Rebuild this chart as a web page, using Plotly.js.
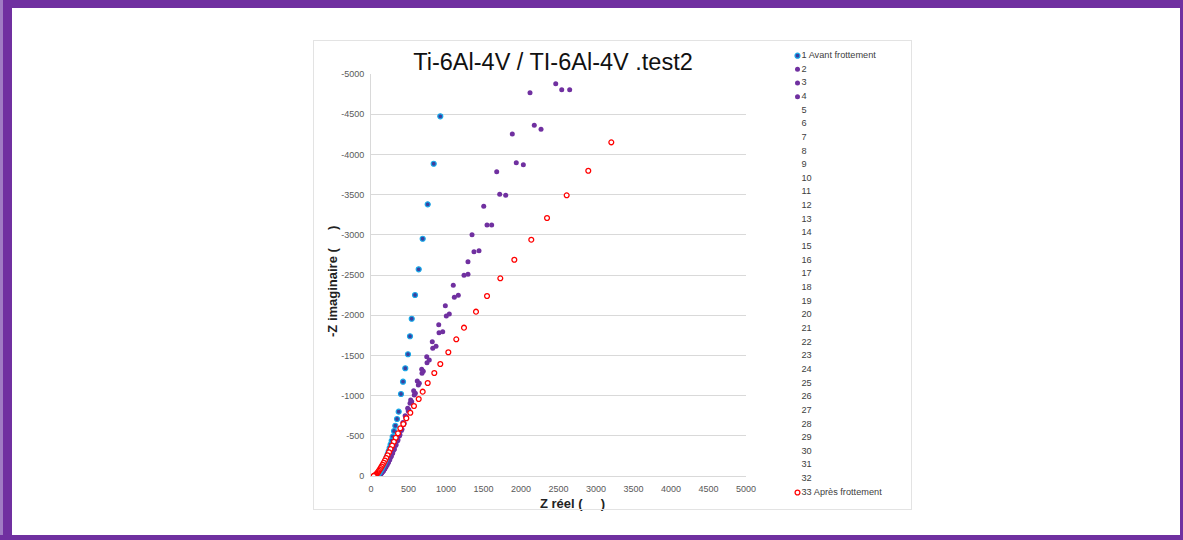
<!DOCTYPE html>
<html>
<head>
<meta charset="utf-8">
<script src="https://cdn.plot.ly/plotly-3.0.1.min.js"></script>
<style>
  html, body { margin: 0; padding: 0; background: #ffffff; }
  #wrap { position: relative; width: 1183px; height: 540px; overflow: hidden; }
  #chart { position: absolute; left: 0; top: 0; width: 1183px; height: 540px; }
  .fr { position: absolute; pointer-events: none; }
</style>
</head>
<body>
<div id="wrap">
  <div id="chart"></div>
  <div class="fr" style="left:313px;top:40px;width:599px;height:470px;border:1px solid #e3e3e3;box-sizing:border-box;"></div>
  <div class="fr" style="left:0;top:0;width:1183px;height:8px;background:#7030a0;"></div>
  <div class="fr" style="left:0;top:0;width:3px;height:540px;background:#a07cc4;"></div>
  <div class="fr" style="left:3px;top:0;width:9px;height:540px;background:#7030a0;"></div>
  <div class="fr" style="left:1180px;top:0;width:3px;height:540px;background:#7030a0;"></div>
  <div class="fr" style="left:0;top:535px;width:1183px;height:5px;background:#7030a0;"></div>
</div>
<script>
// ---- data ----
var s1x = [924, 836, 756, 689, 636, 587, 543, 520, 493, 457, 427, 400, 369, 347, 324, 307, 289, 276, 262, 249, 236, 224, 212, 200, 188, 176, 164, 152, 141, 130, 119, 109, 99, 90, 82, 75, 69, 64];
var s1y = [-4474, -3884, -3379, -2951, -2571, -2251, -1956, -1738, -1514, -1340, -1173, -1020, -800, -709, -625, -560, -489, -439, -392, -350, -310, -273, -240, -208, -180, -154, -130, -108, -88, -70, -54, -40, -28, -18, -11, -6, -2, -1];

var s2x = [2463, 2120, 1884, 1676, 1503, 1347, 1293, 1097, 991, 903, 817, 743, 676, 617, 569, 529, 489, 455, 425, 398, 372, 348, 325, 303, 282, 262, 243, 225, 208, 192, 176, 162, 148, 135, 123, 112, 102, 94, 88];
var s2y = [-4879, -4767, -4254, -3785, -3354, -3001, -2665, -2372, -2118, -1882, -1670, -1484, -1327, -1182, -1061, -945, -842, -750, -665, -590, -520, -455, -395, -340, -290, -245, -205, -170, -140, -112, -88, -68, -50, -36, -24, -15, -8, -4, -1];

var s3x = [2543, 2177, 1937, 1716, 1547, 1373, 1240, 1111, 1004, 907, 823, 747, 680, 631, 577, 520, 497, 465, 435, 405, 378, 352, 328, 306, 285, 265, 246, 228, 211, 195, 180, 165, 151, 138, 126, 115, 105, 97, 90];
var s3y = [-4805, -4362, -3897, -3504, -3122, -2790, -2496, -2223, -1990, -1782, -1588, -1409, -1277, -1132, -1007, -904, -808, -720, -640, -565, -497, -435, -378, -326, -280, -238, -200, -166, -136, -110, -86, -66, -49, -35, -24, -15, -8, -4, -1];

var s4x = [2649, 2267, 2031, 1796, 1609, 1440, 1293, 1164, 1044, 956, 867, 777, 697, 644, 591, 543, 505, 472, 442, 413, 386, 360, 335, 312, 290, 270, 251, 233, 216, 200, 184, 169, 155, 142, 129, 118, 108, 99, 92];
var s4y = [-4805, -4312, -3872, -3491, -3122, -2802, -2509, -2248, -2015, -1795, -1613, -1443, -1302, -1153, -1029, -924, -825, -735, -655, -580, -512, -448, -390, -337, -289, -245, -206, -172, -141, -114, -90, -69, -52, -37, -25, -15, -8, -4, -1];

var s33x = [3204, 2897, 2609, 2347, 2137, 1911, 1724, 1547, 1400, 1240, 1137, 1031, 924, 844, 756, 689, 636, 573, 524, 471, 431, 391, 360, 330, 305, 282, 260, 240, 221, 203, 186, 170, 155, 141, 128, 116, 105, 95, 86, 77, 69, 61, 54, 47, 41, 36];
var s33y = [-4150, -3797, -3491, -3209, -2939, -2690, -2459, -2239, -2044, -1845, -1700, -1539, -1393, -1281, -1157, -1049, -958, -871, -787, -718, -647, -593, -531, -475, -425, -378, -335, -295, -258, -224, -193, -165, -140, -118, -98, -80, -64, -50, -38, -28, -19, -12, -7, -4, -2, -1];

var xTickVals = [0, 500, 1000, 1500, 2000, 2500, 3000, 3500, 4000, 4500, 5000];
var yTickVals = [0, -500, -1000, -1500, -2000, -2500, -3000, -3500, -4000, -4500, -5000];
var yTickText = ['0', '-500', '-1000', '-1500', '-2000', '-2500', '-3000', '-3500', '-4000', '-4500', '-5000'];

var legendLabels = ['1 Avant frottement', '2', '3', '4', '5', '6', '7', '8', '9', '10', '11', '12', '13', '14', '15', '16',
  '17', '18', '19', '20', '21', '22', '23', '24', '25', '26', '27', '28', '29', '30', '31', '32', '33 Après frottement'];

var titleText = 'Ti-6Al-4V / TI-6Al-4V .test2';
var xTitleText = 'Z réel (\u00a0\u00a0\u00a0\u00a0\u00a0)';
var yTitleText = '-Z imaginaire (\u00a0\u00a0\u00a0\u00a0\u00a0)';

// ---- styles / geometry ----
var W = 1183, H = 540;
var FONT = 'Liberation Sans, Arial, sans-serif';
var PURPLE = '#7030a0';
var blueMarker = { size: 5, color: '#3b3f9e', line: { color: '#18a8e8', width: 1.2 } };
var purpleMarker = { size: 5, color: PURPLE, line: { width: 0 } };
var redMarker = { size: 4.8, color: '#ffffff', line: { color: '#ff0000', width: 1.3 } };
var legendMarkerX = 797.5, legendTextX = 801.5;

function px2x(p) { return p / W; }
function py2y(p) { return 1 - p / H; }

var traces = [];
function series(x, y, marker) {
  traces.push({ x: x, y: y, type: 'scatter', mode: 'markers', marker: marker,
    xaxis: 'x', yaxis: 'y', showlegend: false, hoverinfo: 'x+y' });
}
series(s2x, s2y, purpleMarker);
series(s3x, s3y, purpleMarker);
series(s4x, s4y, purpleMarker);
series(s1x, s1y, blueMarker);
series(s33x, s33y, redMarker);

// custom legend (text + markers) on an auxiliary axis pair
var idx = legendLabels.map(function (_, i) { return i + 1; });
traces.push({ x: idx.map(function () { return legendTextX; }), y: idx, text: legendLabels,
  type: 'scatter', mode: 'text', textposition: 'middle right',
  textfont: { family: FONT, size: 9.2, color: '#404040' },
  xaxis: 'x2', yaxis: 'y2', showlegend: false, hoverinfo: 'skip' });
function legendMarker(i, marker) {
  traces.push({ x: [legendMarkerX], y: [i], type: 'scatter', mode: 'markers', marker: marker,
    xaxis: 'x2', yaxis: 'y2', showlegend: false, hoverinfo: 'skip' });
}
legendMarker(1, blueMarker);
legendMarker(2, purpleMarker);
legendMarker(3, purpleMarker);
legendMarker(4, purpleMarker);
legendMarker(33, redMarker);

var layout = {
  width: W, height: H,
  margin: { l: 0, r: 0, t: 0, b: 0, pad: 0 },
  paper_bgcolor: '#ffffff', plot_bgcolor: '#ffffff',
  font: { family: FONT, color: '#595959' },
  showlegend: false,
  title: { text: titleText, xref: 'container', yref: 'container', x: 553 / W, y: py2y(62),
    xanchor: 'center', yanchor: 'middle', font: { family: FONT, size: 23.5, color: '#111111' } },
  xaxis: { domain: [px2x(371), px2x(746)], range: [0, 5000], tickvals: xTickVals,
    showgrid: false, zeroline: false, showline: true, linecolor: '#d9d9d9', linewidth: 1,
    ticks: '', ticklabelstandoff: 4, tickfont: { family: FONT, size: 9, color: '#595959' }, anchor: 'y' },
  yaxis: { domain: [py2y(476), py2y(74)], range: [0, -5000], tickvals: yTickVals, ticktext: yTickText,
    showgrid: true, gridcolor: '#d9d9d9', gridwidth: 1, zeroline: false, showline: true,
    linecolor: '#d9d9d9', linewidth: 1, ticks: '', ticklabelstandoff: 4,
    tickfont: { family: FONT, size: 9, color: '#595959' }, anchor: 'x' },
  xaxis2: { domain: [px2x(780), px2x(920)], range: [780, 920], visible: false, anchor: 'y2', fixedrange: true },
  yaxis2: { domain: [py2y(500), py2y(40)], range: [33.55, -0.15], visible: false, anchor: 'x2', fixedrange: true },
  annotations: [
    { text: '<b>' + xTitleText + '</b>', xref: 'paper', yref: 'paper', x: px2x(572), y: py2y(503),
      xanchor: 'center', yanchor: 'middle', showarrow: false, font: { family: FONT, size: 13, color: '#222222' } },
    { text: '<b>' + yTitleText + '</b>', xref: 'paper', yref: 'paper', x: px2x(332), y: py2y(282),
      xanchor: 'center', yanchor: 'middle', textangle: -90, showarrow: false, font: { family: FONT, size: 13, color: '#222222' } }
  ]
};

Plotly.newPlot('chart', traces, layout, { displayModeBar: false, staticPlot: true });
</script>
</body>
</html>
